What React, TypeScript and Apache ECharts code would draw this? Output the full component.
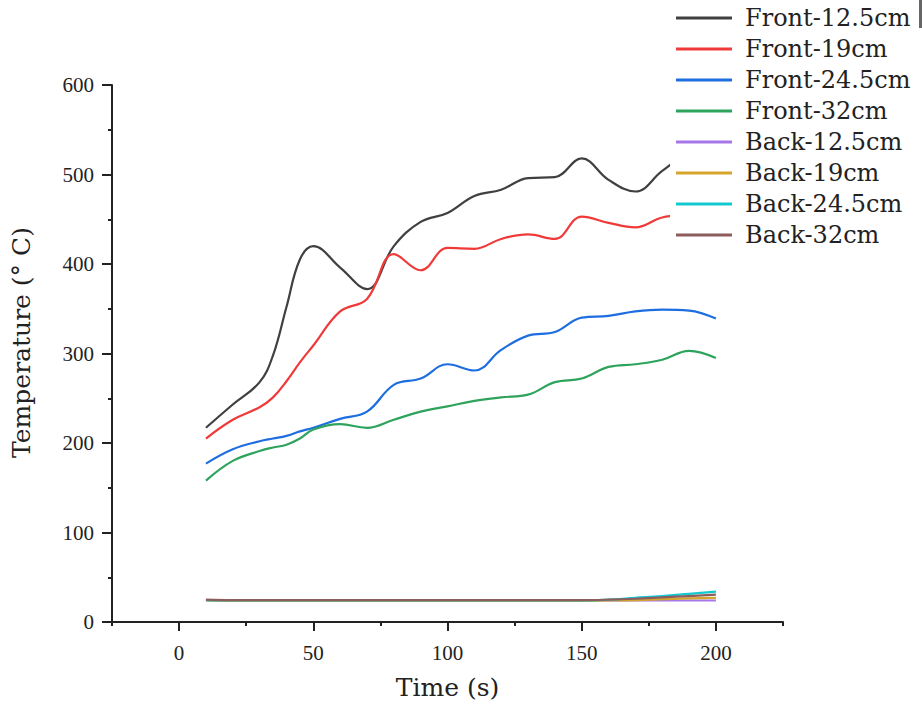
import React, { useEffect, useRef } from "react";
import * as echarts from "echarts";

const time = [10, 20, 30, 35, 40, 45, 50, 60, 70, 80, 90, 100, 110, 120, 130, 140, 150, 160, 170, 180, 190, 200];

const front125 = [217, 243, 268, 298, 352, 405, 420, 396, 372, 420, 447, 457, 476, 483, 496, 497, 518, 494, 481, 504, 525, 535];
const front19 = [205, 226, 240, 251, 269, 290, 309, 347, 361, 411, 393, 418, 417, 428, 433, 428, 453, 446, 441, 452, 455, 458];
const front245 = [177, 193, 202, 205, 208, 213, 217, 227, 235, 265, 272, 288, 281, 304, 320, 324, 340, 342, 347, 349, 348, 339];
const front32 = [158, 180, 191, 195, 198, 205, 215, 221, 217, 226, 235, 241, 247, 251, 254, 268, 272, 285, 288, 293, 303, 295];
const back125 = [24.5, 24, 24, 24, 24, 24, 24, 24, 24, 24, 24, 24, 24, 24, 24, 24, 24, 24, 24, 24, 24, 24];
const back19 = [24, 23.5, 23.5, 23.5, 23.5, 23.5, 23.5, 23.5, 23.5, 23.5, 23.5, 23.5, 23.5, 23.5, 23.5, 23.5, 23.5, 24, 24.5, 25.5, 26.5, 27];
const back245 = [24.5, 24, 24, 24, 24, 24, 24, 24, 24, 24, 24, 24, 24, 24, 24, 24, 24, 25, 27, 29, 31.5, 34];
const back32 = [25, 24.5, 24.5, 24.5, 24.5, 24.5, 24.5, 24.5, 24.5, 24.5, 24.5, 24.5, 24.5, 24.5, 24.5, 24.5, 24.5, 25, 26, 27.5, 29, 30.5];

const seriesNames = ["Front-12.5cm", "Front-19cm", "Front-24.5cm", "Front-32cm", "Back-12.5cm", "Back-19cm", "Back-24.5cm", "Back-32cm"];
const seriesValues = [front125, front19, front245, front32, back125, back19, back245, back32];
const seriesColors = ["#404040", "#f03a3a", "#1e6ee0", "#2ea35c", "#a577e6", "#d4a52a", "#12c9d2", "#8c5d5d"];

const xMajorTicks = [0, 50, 100, 150, 200];

export default function App() {
  const ref = useRef<HTMLDivElement>(null);
  useEffect(() => {
    if (!ref.current) return;
    const chart = echarts.init(ref.current, null, { renderer: "svg" });
    const axisColor = "#222";
    const option: any = {
      animation: false,
      backgroundColor: "#fff",
      grid: { left: 112, right: 139, top: 85, bottom: 80, containLabel: false },
      legend: {
        orient: "vertical",
        left: 670,
        top: 0,
        padding: [5, 6, 12, 6],
        backgroundColor: "#fff",
        itemGap: 5,
        itemWidth: 56,
        itemHeight: 3,
        icon: "rect",
        data: seriesNames,
        textStyle: {
          fontFamily: "DejaVu Serif",
          fontSize: 24,
          color: "#222",
          lineHeight: 26,
          padding: [0, 0, 0, 8],
        },
      },
      xAxis: [
        {
          type: "value",
          min: -25,
          max: 225,
          interval: 25,
          name: "Time (s)",
          nameLocation: "middle",
          nameGap: 53,
          nameTextStyle: { fontFamily: "DejaVu Serif", fontSize: 25, color: "#222" },
          axisLine: { show: true, onZero: false, lineStyle: { color: axisColor, width: 2 } },
          axisTick: { show: true, inside: false, length: 4, lineStyle: { color: axisColor, width: 2 } },
          axisLabel: { show: false },
          splitLine: { show: false },
        },
        {
          type: "value",
          min: -25,
          max: 225,
          interval: 25,
          position: "bottom",
          axisLine: { show: false, onZero: false },
          axisTick: { show: true, inside: false, length: 9, customValues: xMajorTicks, lineStyle: { color: axisColor, width: 2 } },
          axisLabel: {
            show: true,
            customValues: xMajorTicks,
            margin: 20,
            fontFamily: "Liberation Serif",
            fontSize: 21,
            color: "#222",
          },
          splitLine: { show: false },
        },
      ],
      yAxis: {
        type: "value",
        min: 0,
        max: 600,
        interval: 100,
        name: "Temperature (° C)",
        nameLocation: "middle",
        nameGap: 78,
        nameTextStyle: { fontFamily: "DejaVu Serif", fontSize: 25, color: "#222", padding: [0, 0, 0, 22] },
        axisLine: { show: true, onZero: false, lineStyle: { color: axisColor, width: 2 } },
        axisTick: { show: true, inside: false, length: 10, lineStyle: { color: axisColor, width: 2 } },
        minorTick: { show: true, splitNumber: 2, length: 4, lineStyle: { color: axisColor, width: 2 } },
        axisLabel: { margin: 18, fontFamily: "Liberation Serif", fontSize: 21, color: "#222" },
        splitLine: { show: false },
      },
      graphic: [
        { type: "rect", right: 0, top: 0, shape: { width: 3, height: 28 }, style: { fill: "#666" }, z: 100 },
      ],
      series: seriesNames.map((name, i) => ({
        name,
        type: "line",
        xAxisIndex: 0,
        smooth: 0.4,
        symbol: "none",
        color: seriesColors[i],
        lineStyle: { width: 2.2, color: seriesColors[i] },
        data: time.map((t, j) => [t, seriesValues[i][j]]),
      })),
    };
    chart.setOption(option);
    return () => chart.dispose();
  }, []);
  return <div ref={ref} style={{ position: "fixed", left: 0, top: 0, width: 922, height: 705 }} />;
}
